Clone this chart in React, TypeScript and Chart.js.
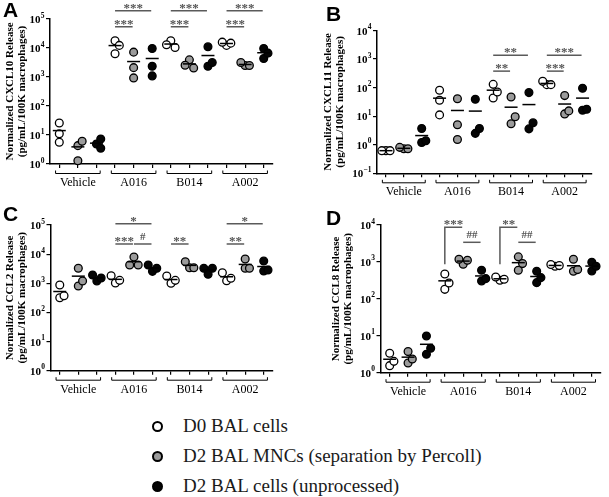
import React, { useEffect, useRef } from 'react';
import { Chart, registerables } from 'chart.js';

Chart.register(...registerables);

// ---------------- data ----------------
const groups = ['Vehicle', 'A016', 'B014', 'A002'];
const seriesNames = ['D0 BAL cells', 'D2 BAL MNCs (separation by Percoll)', 'D2 BAL cells (unprocessed)'];
const seriesFill = ['#ffffff', '#9b9b9b', '#050505'];

// Panel A – CXCL10 (replicates per group)
const cxcl10D0 = [[26, 11, 5.6], [17800, 12300, 6300], [17800, 10400, 12900], [12300, 14700, 15900]];
const cxcl10MNC = [[4.3, 1.3, 6.1], [7200, 2100, 930], [3900, 2050, 2550], [2480, 2480, 3150]];
const cxcl10Cells = [[4.9, 3.5, 7.3], [9600, 2350, 1090], [11000, 2350, 3150], [9600, 4350, 6650]];

// Panel B – CXCL11
const cxcl11D0 = [[0.62, 0.62, 0.62], [81, 36, 11.1], [130, 43.5, 70.6], [127, 127, 166]];
const cxcl11MNC = [[0.72, 0.72, 0.81], [41, 5.0, 1.53], [47, 5.4, 9.5], [52.6, 12, 15.3]];
const cxcl11Cells = [[3.7, 1.2, 1.38], [39, 2.5, 3.7], [67, 3.6, 5.85], [95, 16.2, 17.5]];

// Panel C – CCL2
const ccl2D0 = [[871, 320, 375], [1020, 1260, 1820], [1000, 1260, 1780], [1230, 1480, 2310]];
const ccl2MNC = [[3260, 806, 1200], [8000, 4240, 4240], [3430, 3430, 5500], [6800, 3260, 3260]];
const ccl2Cells = [[1200, 1515, 1920], [2570, 3260, 4240], [2030, 3260, 3260], [5800, 2630, 2850]];

// Panel D – CCL8
const ccl8D0 = [[3.36, 1.55, 2.03], [473, 181, 269], [318, 338, 392], [764, 796, 848]];
const ccl8MNC = [[3.73, 1.83, 2.35], [865, 1112, 1183], [1371, 594, 902], [1183, 558, 620]];
const ccl8Cells = [[9.9, 3.15, 4.59], [305, 353, 594], [558, 275, 376], [982, 570, 764]];

// significance annotations (from/to = point positions, y = data value of the bar)
const sigA = [
  { from: 3, to: 4, y: 5.4e4, text: '***' }, { from: 3, to: 5, y: 1.94e5, text: '***' },
  { from: 6, to: 7, y: 5.4e4, text: '***' }, { from: 6, to: 8, y: 1.94e5, text: '***' },
  { from: 9, to: 10, y: 5.4e4, text: '***' }, { from: 9, to: 11, y: 1.94e5, text: '***' },
];
const sigB = [
  { from: 6, to: 7, y: 378, text: '**' }, { from: 6, to: 8, y: 1370, text: '**' },
  { from: 9, to: 10, y: 378, text: '***' }, { from: 9, to: 11, y: 1370, text: '***' },
];
const sigC = [
  { from: 3, to: 4, y: 2.23e4, text: '***' }, { from: 4, to: 5, y: 2.23e4, text: '#' },
  { from: 3, to: 5, y: 1.11e5, text: '*' },
  { from: 6, to: 7, y: 2.23e4, text: '**' },
  { from: 9, to: 10, y: 2.23e4, text: '**' }, { from: 9, to: 11, y: 1.11e5, text: '*' },
];
const sigD = [
  { from: 3, to: 4, y: 8650, text: '***', drop: 861 }, { from: 4, to: 5, y: 3400, text: '##' },
  { from: 6, to: 7, y: 8650, text: '**', drop: 861 }, { from: 7, to: 8, y: 3400, text: '##' },
];

const yTitlesA = ['Normalized CXCL10 Release', '(pg/mL/100K macrophages)'];
const yTitlesB = ['Normalized CXCL11 Release', '(pg/mL/100K macrophages)'];
const yTitlesC = ['Normalized CCL2 Release', '(pg/mL/100K macrophages)'];
const yTitlesD = ['Normalized CCL8 Release', '(pg/mL/100K macrophages)'];

// ---------------- helpers ----------------
const SERIF = '"Liberation Serif", "Times New Roman", serif';

type Panel = {
  letter: string;
  series: number[][][];
  sig: any[];
  title: string[];
  yMin: number;
  yMax: number;
  canvas: { left: number; top: number; w: number; h: number };
  yw: number; padTop: number; padRight: number; xh: number; titlePad: number;
  thr: number;
  letterPos: { left: number; top: number };
};

const JIT = 0.23;

function buildDatasets(series: number[][][], thr: number) {
  const ds: any[] = [];
  const means: any[] = [];
  series.forEach((s, si) =>
    s.forEach((reps, g) => {
      means.push({ x: g * 3 + si, y: reps.reduce((a, b) => a + b, 0) / reps.length });
    })
  );
  ds.push({
    label: 'mean', data: means, showLine: false, clip: false,
    pointStyle: 'line', pointRadius: 6.5, pointBorderWidth: 1.5,
    pointBorderColor: '#000', pointBackgroundColor: '#000',
  });
  series.forEach((s, si) => {
    const pts: any[] = [];
    s.forEach((reps, g) => {
      const placed: { k: number; lv: number }[] = [];
      reps.forEach((v) => {
        const lv = Math.log10(v);
        for (const k of [0, 1, -1, 2, -2]) {
          if (!placed.some((p) => p.k === k && Math.abs(p.lv - lv) < thr)) {
            placed.push({ k, lv });
            pts.push({ x: g * 3 + si + k * JIT, y: v });
            break;
          }
        }
      });
    });
    ds.push({
      label: seriesNames[si], data: pts, showLine: false, clip: false,
      pointRadius: 3.9, pointBorderWidth: 1.3,
      pointBackgroundColor: seriesFill[si], pointBorderColor: '#000',
    });
  });
  return ds;
}

function makeDecor(sig: any[]) {
  return {
    id: 'decor',
    afterDraw(chart: any) {
      const { ctx, chartArea } = chart;
      const x = chart.scales.x;
      const y = chart.scales.y;
      ctx.save();
      // y tick labels: 10 with superscript exponent
      y.ticks.forEach((t: any) => {
        const e = Math.round(Math.log10(t.value));
        const py = y.getPixelForValue(t.value);
        const right = chartArea.left - 5.5;
        ctx.fillStyle = '#000';
        ctx.font = `bold 7.5px ${SERIF}`;
        const expStr = String(e).replace('-', '\u2212');
        const ew = ctx.measureText(expStr).width;
        ctx.textAlign = 'left';
        ctx.textBaseline = 'alphabetic';
        ctx.fillText(expStr, right - ew, py - 1.5);
        ctx.font = `bold 11px ${SERIF}`;
        ctx.textAlign = 'right';
        ctx.fillText('10', right - ew - 0.3, py + 4);
      });
      // group brackets + labels
      ctx.strokeStyle = '#000';
      ctx.lineWidth = 1;
      ctx.fillStyle = '#000';
      ctx.font = `12px ${SERIF}`;
      ctx.textAlign = 'center';
      ctx.textBaseline = 'middle';
      groups.forEach((name, g) => {
        const x0 = x.getPixelForValue(g * 3 - 0.2);
        const x1 = x.getPixelForValue(g * 3 + 2.2);
        const yb = chartArea.bottom + 9.5;
        ctx.beginPath();
        ctx.moveTo(x0, yb - 3);
        ctx.lineTo(x0, yb);
        ctx.lineTo(x1, yb);
        ctx.lineTo(x1, yb - 3);
        ctx.stroke();
        ctx.fillText(name, x.getPixelForValue(g * 3 + 1), chartArea.bottom + 19);
      });
      // significance bars
      sig.forEach((s) => {
        const xa = x.getPixelForValue(s.from);
        const xb = x.getPixelForValue(s.to) - 1;
        const yy = y.getPixelForValue(s.y);
        ctx.strokeStyle = '#5a5a5a';
        ctx.lineWidth = 1.5;
        ctx.beginPath();
        if (s.drop) {
          ctx.moveTo(xa, y.getPixelForValue(s.drop));
          ctx.lineTo(xa, yy);
        } else {
          ctx.moveTo(xa, yy);
        }
        ctx.lineTo(xb, yy);
        ctx.stroke();
        ctx.fillStyle = '#555';
        const star = s.text.includes('*');
        ctx.font = star ? `bold 13px ${SERIF}` : `bold 11px ${SERIF}`;
        ctx.textBaseline = 'middle';
        ctx.fillText(s.text, (xa + xb) / 2, yy - (star ? 2.5 : 7));
      });
      ctx.restore();
    },
  };
}

function PanelChart({ p }: { p: Panel }) {
  const ref = useRef<HTMLCanvasElement | null>(null);
  useEffect(() => {
    if (!ref.current) return;
    const decades: number[] = [];
    for (let e = Math.round(Math.log10(p.yMin)); e <= Math.round(Math.log10(p.yMax)); e++) decades.push(e);
    const chart = new Chart(ref.current, {
      type: 'scatter',
      data: { datasets: buildDatasets(p.series, p.thr) },
      plugins: [makeDecor(p.sig)],
      options: {
        responsive: false,
        animation: false,
        events: [],
        layout: { padding: { left: 0, top: p.padTop, right: p.padRight, bottom: 0 } },
        plugins: { legend: { display: false }, tooltip: { enabled: false } },
        scales: {
          x: {
            type: 'linear',
            min: -0.5,
            max: 11.5,
            afterBuildTicks: (s: any) => {
              s.ticks = Array.from({ length: 12 }, (_, i) => ({ value: i }));
            },
            afterFit: (s: any) => { s.height = p.xh; },
            ticks: { display: false },
            grid: { display: true, drawOnChartArea: false, drawTicks: true, tickLength: 4, color: '#000', lineWidth: 1.2 },
            border: { display: true, color: '#000', width: 1.5 },
          },
          y: {
            type: 'logarithmic',
            min: p.yMin,
            max: p.yMax,
            afterBuildTicks: (s: any) => {
              s.ticks = decades.map((e) => ({ value: Math.pow(10, e) }));
            },
            afterFit: (s: any) => { s.width = p.yw; },
            ticks: { display: false },
            grid: { display: true, drawOnChartArea: false, drawTicks: true, tickLength: 4, color: '#000', lineWidth: 1.2 },
            border: { display: true, color: '#000', width: 1.5 },
            title: {
              display: true,
              text: p.title,
              color: '#000',
              padding: { top: p.titlePad, bottom: 0 },
              font: { family: SERIF, size: 11, weight: 'bold', lineHeight: 1.1 },
            },
          },
        },
      } as any,
    });
    return () => chart.destroy();
  }, [p]);
  return (
    <canvas
      ref={ref}
      width={p.canvas.w}
      height={p.canvas.h}
      style={{ position: 'absolute', left: p.canvas.left, top: p.canvas.top, width: p.canvas.w, height: p.canvas.h, display: 'block' }}
    />
  );
}

const panels: Panel[] = [
  {
    letter: 'A', series: [cxcl10D0, cxcl10MNC, cxcl10Cells], sig: sigA, title: yTitlesA, yMin: 1, yMax: 1e5,
    canvas: { left: 0, top: 0, w: 300, h: 200 }, yw: 50, padTop: 19, padRight: 27, xh: 36, titlePad: 4, thr: 0.28,
    letterPos: { left: 3, top: -1 },
  },
  {
    letter: 'B', series: [cxcl11D0, cxcl11MNC, cxcl11Cells], sig: sigB, title: yTitlesB, yMin: 0.1, yMax: 1e4,
    canvas: { left: 300, top: 0, w: 309, h: 200 }, yw: 77, padTop: 30.5, padRight: 17.5, xh: 26.7, titlePad: 22, thr: 0.28,
    letterPos: { left: 326, top: 3 },
  },
  {
    letter: 'C', series: [ccl2D0, ccl2MNC, ccl2Cells], sig: sigC, title: yTitlesC, yMin: 1, yMax: 1e5,
    canvas: { left: 0, top: 200, w: 300, h: 200 }, yw: 50.5, padTop: 25, padRight: 27, xh: 29.3, titlePad: 4, thr: 0.28,
    letterPos: { left: 3, top: 203 },
  },
  {
    letter: 'D', series: [ccl8D0, ccl8MNC, ccl8Cells], sig: sigD, title: yTitlesD, yMin: 1, yMax: 1e4,
    canvas: { left: 300, top: 200, w: 309, h: 200 }, yw: 80.5, padTop: 25, padRight: 0.5, xh: 27.3, titlePad: 30.5, thr: 0.23,
    letterPos: { left: 326, top: 207 },
  },
];

export default function App() {
  return (
    <div style={{ position: 'absolute', left: 0, top: 0, width: 609, height: 497, background: '#fff', overflow: 'hidden' }}>
      {panels.map((p) => (
        <PanelChart key={p.letter} p={p} />
      ))}
      {panels.map((p) => (
        <div
          key={'l' + p.letter}
          style={{
            position: 'absolute', left: p.letterPos.left, top: p.letterPos.top,
            font: 'bold 21px "Liberation Sans", Arial, sans-serif', lineHeight: '21px', color: '#000',
          }}
        >
          {p.letter}
        </div>
      ))}
      {seriesNames.map((name, i) => (
        <React.Fragment key={name}>
          <div
            style={{
              position: 'absolute', left: 151.5, top: 420.5 + i * 30, width: 7, height: 7,
              borderRadius: '50%', border: '2px solid #000', background: seriesFill[i],
            }}
          />
          <div
            style={{
              position: 'absolute', left: 183, top: 416 + i * 30, whiteSpace: 'nowrap',
              font: `19px ${SERIF}`, lineHeight: '19px', color: '#1a1a1a',
            }}
          >
            {name}
          </div>
        </React.Fragment>
      ))}
    </div>
  );
}
